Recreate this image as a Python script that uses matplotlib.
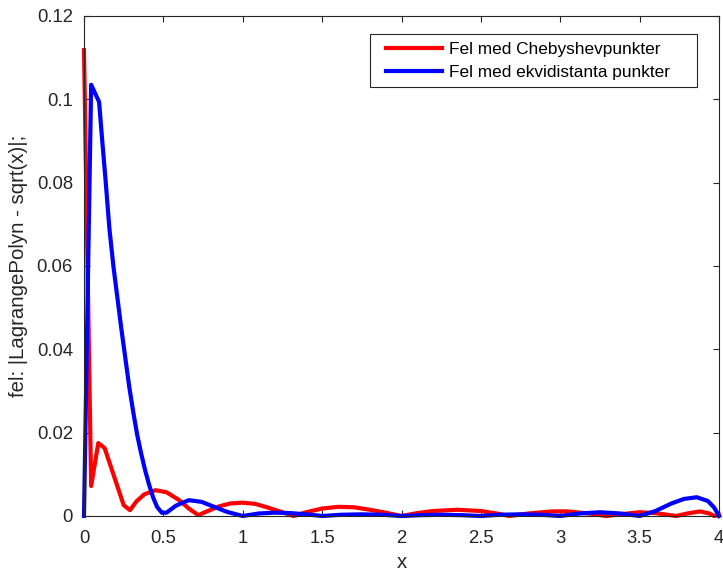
import matplotlib
matplotlib.use("Agg")
import matplotlib.pyplot as plt
import numpy as np
from matplotlib.legend_handler import HandlerLine2D

# Error with Chebyshev nodes
cheb_x = [0.0, 0.045, 0.09, 0.13, 0.25, 0.29, 0.33, 0.38, 0.45, 0.52, 0.60, 0.66,
          0.72, 0.78, 0.85, 0.92, 1.00, 1.08, 1.16, 1.25, 1.32, 1.40, 1.50, 1.60,
          1.70, 1.80, 1.90, 2.00, 2.10, 2.20, 2.35, 2.50, 2.60, 2.68, 2.80, 2.95,
          3.05, 3.20, 3.29, 3.40, 3.50, 3.60, 3.73, 3.80, 3.88, 3.94, 3.97, 4.00]
cheb_y = [0.1118, 0.0072, 0.0175, 0.0163, 0.0026, 0.0014, 0.0035, 0.0052, 0.0062,
          0.0057, 0.0038, 0.0018, 0.0002, 0.0012, 0.0023, 0.0030, 0.0032, 0.0029,
          0.0020, 0.0009, 0.0000, 0.0009, 0.0018, 0.0022, 0.0021, 0.0015, 0.0008,
          0.0000, 0.0007, 0.0012, 0.0015, 0.0012, 0.0006, 0.0000, 0.0006, 0.0011,
          0.0011, 0.0005, 0.0000, 0.0005, 0.0009, 0.0007, 0.0000, 0.0006, 0.0011,
          0.0006, 0.0000, 0.0003]

# Error with equidistant nodes
equi_x = [0.0, 0.045, 0.095, 0.115, 0.135, 0.16, 0.185, 0.21, 0.235, 0.26, 0.285,
          0.31, 0.335, 0.36, 0.385, 0.41, 0.435, 0.46, 0.49,
          0.52, 0.58, 0.66, 0.74, 0.82, 0.90, 1.00, 1.10, 1.20, 1.30, 1.40, 1.50,
          1.62, 1.75, 1.88, 2.00, 2.12, 2.25, 2.38, 2.50, 2.62, 2.75, 2.88, 3.00,
          3.12, 3.25, 3.38, 3.50, 3.60, 3.70, 3.78, 3.86, 3.93, 3.97, 4.00]
equi_y = [0.0, 0.1035, 0.0994, 0.0900, 0.0810, 0.0690, 0.0600, 0.0525, 0.0450,
          0.0380, 0.0310, 0.0250, 0.0195, 0.0150, 0.0110, 0.0075, 0.0045, 0.0022,
          0.0008, 0.0008, 0.0025, 0.0038, 0.0034, 0.0022, 0.0010,
          0.0000, 0.0006, 0.0008, 0.0007, 0.0004, 0.0000, 0.0003, 0.0004, 0.0003,
          0.0000, 0.0002, 0.0003, 0.0002, 0.0000, 0.0003, 0.0004, 0.0003, 0.0000,
          0.0006, 0.0009, 0.0006, 0.0000, 0.0012, 0.0030, 0.0041, 0.0045, 0.0036,
          0.0020, 0.0000]

labels = ["Fel med Chebyshevpunkter", "Fel med ekvidistanta punkter"]
x_ticks = [0, 0.5, 1, 1.5, 2, 2.5, 3, 3.5, 4]
y_ticks = [0, 0.02, 0.04, 0.06, 0.08, 0.1, 0.12]

plt.rcParams['font.family'] = ['Liberation Sans', 'DejaVu Sans']
dark = '#262626'


class PadHandler(HandlerLine2D):
    """Line handle with extra empty space on its left side."""
    def get_xdata(self, legend, xdescent, ydescent, width, height, fontsize):
        xd, xm = super().get_xdata(legend, xdescent, ydescent, width, height, fontsize)
        off = 8 * 72 / 100
        return np.array([xd[0] + off, xd[-1]]), xm


fig = plt.figure(figsize=(7.23, 5.71), dpi=100)
ax = fig.add_axes([84/723, 1-516/571, 635/723, 500/571])

l1, = ax.plot(cheb_x, cheb_y, color='#ff0000', lw=3, label=labels[0],
              solid_joinstyle='round', clip_on=False)
l2, = ax.plot(equi_x, equi_y, color='#0000ff', lw=3, label=labels[1],
              solid_joinstyle='round', clip_on=False)

ax.set_xlim(0, 4)
ax.set_ylim(0, 0.12)
ax.set_xticks(x_ticks)
ax.set_xticklabels([f"{t:g}" for t in x_ticks])
ax.set_yticks(y_ticks)
ax.set_yticklabels([f"{t:g}" for t in y_ticks])
ax.tick_params(direction='in', length=4.5, width=0.8, color=dark, labelcolor=dark,
               labelsize=13.3, top=True, right=True)
ax.tick_params(axis='x', pad=10)
ax.tick_params(axis='y', pad=8)
for s in ax.spines.values():
    s.set_color(dark)
    s.set_linewidth(0.8)

ax.set_xlabel('x', fontsize=14.7, color=dark, labelpad=4.5)
ax.set_ylabel('fel: |LagrangePolyn - sqrt(x)|;', fontsize=14.7, color=dark, labelpad=6)

leg = ax.legend(handles=[l1, l2], loc='upper left',
                bbox_to_anchor=(0.4504, 0.864, 0.515, 0.1),
                mode='expand', borderaxespad=0, fancybox=False, framealpha=1,
                edgecolor=dark, fontsize=12.4, handlelength=3.71, handletextpad=0.4,
                labelspacing=0.45, borderpad=0.45,
                handler_map={l1: PadHandler(), l2: PadHandler()})
leg.get_frame().set_linewidth(0.8)
for t in leg.get_texts():
    t.set_color('black')

fig.savefig('out.png', dpi=100)
